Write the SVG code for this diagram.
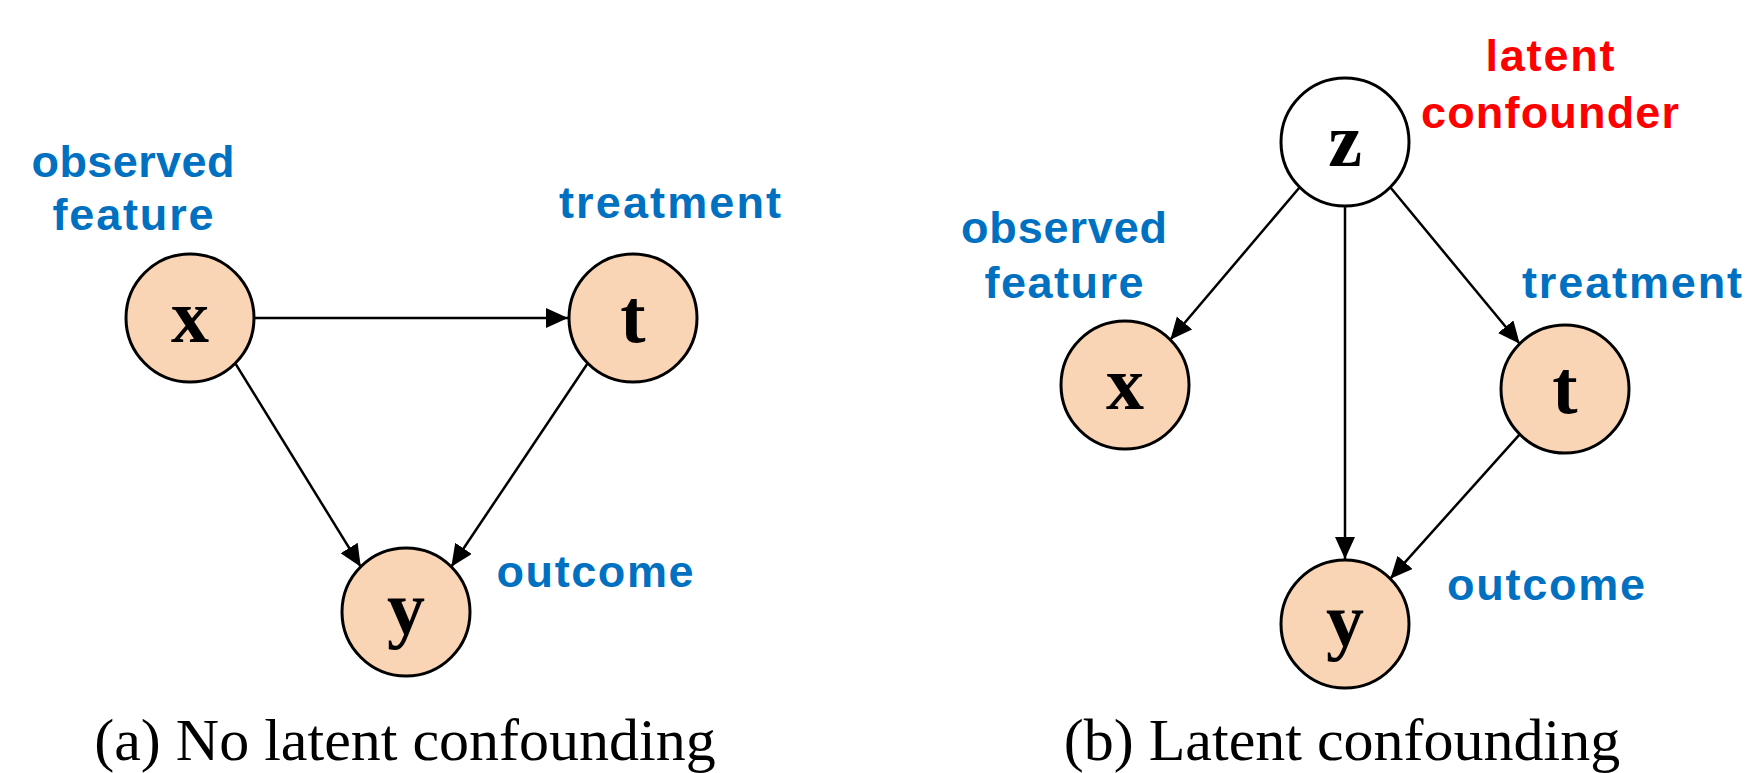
<svg xmlns="http://www.w3.org/2000/svg" width="1745" height="773" viewBox="0 0 1745 773">
<style>
.node{fill:#FAD5B5;stroke:#000;stroke-width:3}
.latent{fill:#fff;stroke:#000;stroke-width:3}
.var{font-family:"Liberation Serif",serif;font-weight:bold;font-size:76px;text-anchor:middle;fill:#000}
.lbl{font-family:"Liberation Sans",Arial,sans-serif;font-weight:bold;font-size:45px;text-anchor:middle;fill:#0070C0}
.red{fill:#FF0000}
.cap{font-family:"Liberation Serif",serif;font-size:60px;text-anchor:middle;fill:#000}
.edge{stroke:#000;stroke-width:2.5;fill:none;marker-end:url(#arr)}
</style>
<defs>
<marker id="arr" markerUnits="userSpaceOnUse" markerWidth="24" markerHeight="22" refX="22" refY="10" orient="auto" viewBox="0 0 24 22">
<path d="M0,0 L22,10 L0,20 Z" fill="#000"/>
</marker>
</defs>
<g id="connectors">
<line class="edge" x1="255" y1="318" x2="568" y2="318"/>
<line class="edge" x1="235.3" y1="363.3" x2="360.7" y2="566.7"/>
<line class="edge" x1="587.7" y1="363.3" x2="451.3" y2="566.7"/>
<line class="edge" x1="1299.7" y1="187.3" x2="1170.3" y2="339.7"/>
<line class="edge" x1="1390.3" y1="187.3" x2="1519.7" y2="343.7"/>
<line class="edge" x1="1345" y1="207" x2="1345" y2="559"/>
<line class="edge" x1="1519.7" y1="434.3" x2="1390.3" y2="578.7"/>
</g>
<g id="a-x"><circle class="node" cx="190" cy="318" r="64"/><text class="var" x="190" y="342">x</text></g>
<g id="a-t"><circle class="node" cx="633" cy="318" r="64"/><text class="var" x="633" y="342">t</text></g>
<g id="a-y"><circle class="node" cx="406" cy="612" r="64"/><text class="var" x="406" y="634">y</text></g>
<g id="a-labels">
<text class="lbl" x="133" y="177" textLength="203">observed</text>
<text class="lbl" x="133" y="230" textLength="161">feature</text>
<text class="lbl" x="670" y="218" textLength="222">treatment</text>
<text class="lbl" x="595" y="587" textLength="197">outcome</text>
<text class="cap" x="405" y="760">(a) No latent confounding</text>
</g>
<g id="b-z"><circle class="latent" cx="1345" cy="142" r="64"/><text class="var" x="1345" y="166">z</text></g>
<g id="b-x"><circle class="node" cx="1125" cy="385" r="64"/><text class="var" x="1125" y="409">x</text></g>
<g id="b-t"><circle class="node" cx="1565" cy="389" r="64"/><text class="var" x="1565" y="413">t</text></g>
<g id="b-y"><circle class="node" cx="1345" cy="624" r="64"/><text class="var" x="1345" y="646">y</text></g>
<g id="b-labels">
<text class="lbl red" x="1550" y="71" textLength="129">latent</text>
<text class="lbl red" x="1550" y="128" textLength="258">confounder</text>
<text class="lbl" x="1064" y="243" textLength="206">observed</text>
<text class="lbl" x="1064" y="298" textLength="159">feature</text>
<text class="lbl" x="1632" y="298" textLength="220">treatment</text>
<text class="lbl" x="1546" y="600" textLength="198">outcome</text>
<text class="cap" x="1342" y="760">(b) Latent confounding</text>
</g>
</svg>
